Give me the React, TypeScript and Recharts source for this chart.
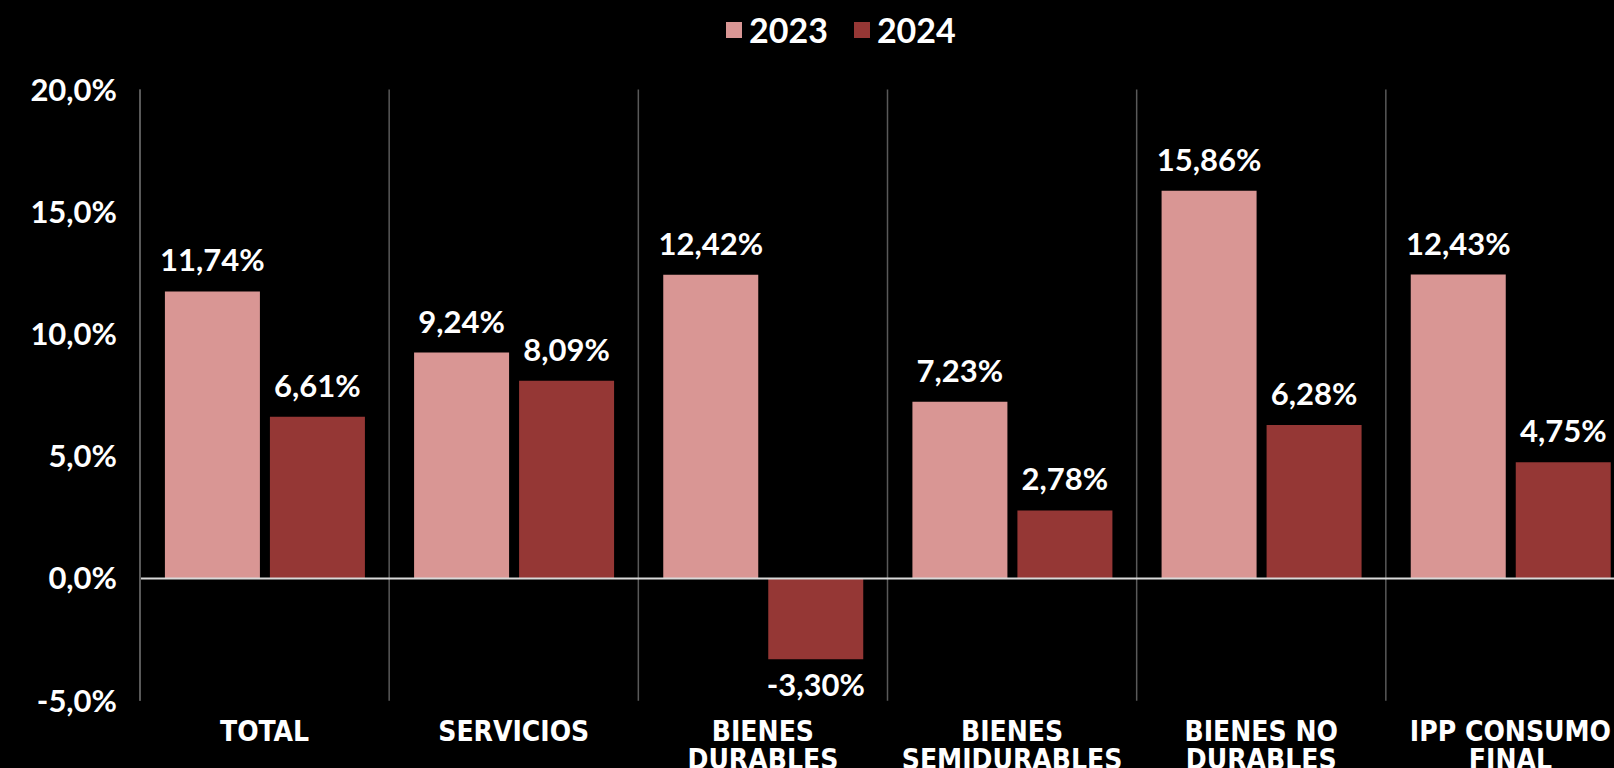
import { Bar, BarChart, CartesianGrid, LabelList, Legend, ReferenceLine, XAxis, YAxis } from "recharts"

const categories = [
  "TOTAL",
  "SERVICIOS",
  "BIENES\nDURABLES",
  "BIENES\nSEMIDURABLES",
  "BIENES NO\nDURABLES",
  "IPP CONSUMO\nFINAL",
]
const values2023 = [11.74, 9.24, 12.42, 7.23, 15.86, 12.43]
const values2024 = [6.61, 8.09, -3.3, 2.78, 6.28, 4.75]
const seriesNames = ["2023", "2024"]
const yTicks = [-5, 0, 5, 10, 15, 20]

const colors = ["#d99694", "#953735"]
const font = "Lato, 'Open Sans', sans-serif"

const data = categories.map((name, i) => ({
  name,
  "2023": values2023[i],
  "2024": values2024[i],
}))

const pct = (v: number, digits: number) => v.toFixed(digits).replace(".", ",") + "%"

function CategoryTick({ x, y, payload }: any) {
  const lines = String(payload.value).split("\n")
  return (
    <text x={x} y={y} textAnchor="middle" fill="#fff"
      fontFamily="'DejaVu Sans Condensed', 'Liberation Sans Narrow', sans-serif" fontWeight={700} fontSize={28}>
      {lines.map((line, i) => (
        <tspan key={i} x={x} dy={i === 0 ? 40 : 28}>{line}</tspan>
      ))}
    </text>
  )
}

function ValueLabel({ x, y, width, height, value }: any) {
  const top = Math.min(y, y + height)
  const bottom = Math.max(y, y + height)
  const cx = x + width / 2
  const ty = value < 0 ? bottom + 37 : top - 20
  return (
    <text x={cx} y={ty} textAnchor="middle" fill="#fff" fontFamily={font} fontWeight={700} fontSize={31}>
      {pct(value, 2)}
    </text>
  )
}

function LegendContent() {
  return (
    <div style={{ display: "flex", alignItems: "center", fontFamily: font, fontWeight: 700, fontSize: 34, color: "#fff" }}>
      {seriesNames.map((s, i) => (
        <div key={s} style={{ display: "flex", alignItems: "center", marginRight: i === 0 ? 26 : 0 }}>
          <span style={{ width: 16, height: 16, background: colors[i], display: "inline-block", marginRight: 7 }} />
          <span style={{ lineHeight: "34px" }}>{s}</span>
        </div>
      ))}
    </div>
  )
}

export default function App() {
  return (
    <div style={{ position: "fixed", top: 0, left: 0, width: 1614, height: 768, overflow: "hidden", background: "#000" }}>
      <BarChart
        width={1680}
        height={800}
        data={data}
        margin={{ top: 89.5, right: 45, bottom: 39.3, left: 0 }}
        barCategoryGap="10%"
        barGap={10}
      >
        <CartesianGrid
          horizontal={false}
          stroke="#595959"
          strokeWidth={1.5}
          verticalCoordinatesGenerator={({ offset }: any) =>
            Array.from({ length: categories.length + 1 }, (_, i) => offset.left + (i * offset.width) / categories.length)
          }
        />
        <XAxis dataKey="name" interval={0} axisLine={false} tickLine={false} tickSize={0} tickMargin={0} height={60} tick={<CategoryTick />} />
        <YAxis
          width={140}
          domain={[-5, 20]}
          ticks={yTicks}
          tickFormatter={(v: number) => pct(v, 1)}
          axisLine={{ stroke: "#595959", strokeWidth: 2 }}
          tickLine={false}
          tickSize={0}
          tickMargin={23}
          tick={{ fill: "#fff", fontFamily: font, fontWeight: 700, fontSize: 31 }}
        />
        <ReferenceLine y={0} stroke="#d9d9d9" strokeWidth={2} />
        <Legend verticalAlign="middle" align="center" layout="horizontal" wrapperStyle={{ top: 13, left: 726, width: "auto" }} content={<LegendContent />} />
        {seriesNames.map((s, i) => (
          <Bar key={s} dataKey={s} fill={colors[i]} isAnimationActive={false}>
            <LabelList dataKey={s} content={<ValueLabel />} />
          </Bar>
        ))}
      </BarChart>
    </div>
  )
}
